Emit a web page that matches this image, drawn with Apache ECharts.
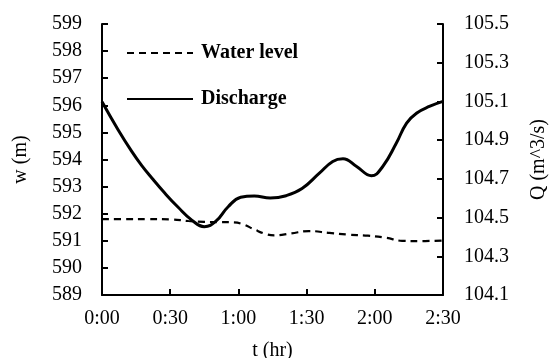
<!DOCTYPE html>
<html><head><meta charset="utf-8">
<script src="https://cdn.jsdelivr.net/npm/echarts@6/dist/echarts.min.js"></script>
<style>html,body{margin:0;padding:0;background:#fff}#c{width:551px;height:358px}</style>
</head><body><div id="c"></div>
<script>
// time in minutes
var wTimes = [0,10,20,30,38,45,52,58,62,67,72,76,83,91,100,108,117,125,132,140,150];
var waterLevel = [591.80,591.80,591.80,591.79,591.73,591.70,591.69,591.68,591.61,591.42,591.25,591.20,591.27,591.36,591.29,591.23,591.19,591.11,591.00,590.99,591.01];
var qTimes = [0,7,13,17.5,22,27.5,33.5,39.5,45,50,55.5,61,67,74,81,88,95.5,101.5,106,112,118.5,123.5,129.5,134,138.5,144,150];
var discharge = [105.098,104.955,104.843,104.768,104.703,104.628,104.553,104.487,104.453,104.480,104.556,104.605,104.612,104.601,104.613,104.650,104.728,104.790,104.804,104.764,104.716,104.764,104.885,104.988,105.040,105.074,105.100];
var xTickLabels = ['0:00','0:30','1:00','1:30','2:00','2:30'];
var seriesNames = ['Water level','Discharge'];

var font = 'Liberation Serif, Times New Roman, serif';
var chart = echarts.init(document.getElementById('c'));
function pairs(ts,v){return ts.map(function(t,i){return [t,v[i]];});}
chart.setOption({
  animation:false,
  grid:{left:102,right:108,top:24,bottom:63,containLabel:false,outerBoundsMode:'none'},
  xAxis:{type:'value',min:0,max:150,interval:30,
    name:'t (hr)',nameLocation:'middle',nameGap:46,
    nameTextStyle:{fontFamily:font,fontSize:20,color:'#000'},
    axisLine:{lineStyle:{color:'#000',width:2}},
    axisTick:{inside:true,length:6,lineStyle:{color:'#000',width:2}},
    axisLabel:{fontFamily:font,fontSize:20,color:'#000',margin:14,
      formatter:function(v){return xTickLabels[Math.round(v/30)];}},
    splitLine:{show:false}},
  yAxis:[
    {type:'value',min:589,max:599,interval:1,position:'left',
      name:'w (m)',nameLocation:'middle',nameGap:71,
      nameTextStyle:{fontFamily:font,fontSize:20,color:'#000'},
      axisLine:{show:true,lineStyle:{color:'#000',width:2}},
      axisTick:{show:true,inside:true,length:6,lineStyle:{color:'#000',width:2}},
      axisLabel:{fontFamily:font,fontSize:20,color:'#000',margin:20},
      splitLine:{show:false}},
    {type:'value',min:104.1,max:105.5,interval:0.2,position:'right',
      name:'Q (m^3/s)',nameLocation:'middle',nameGap:86,
      nameTextStyle:{fontFamily:font,fontSize:20,color:'#000'},
      axisLine:{show:true,lineStyle:{color:'#000',width:2}},
      axisTick:{show:true,inside:true,length:6,lineStyle:{color:'#000',width:2}},
      axisLabel:{fontFamily:font,fontSize:20,color:'#000',margin:21,
        formatter:function(v){return v.toFixed(1);}},
      splitLine:{show:false}}
  ],
  legend:{show:true,orient:'vertical',left:121,top:38,itemGap:26,itemWidth:66,itemHeight:14,
    itemStyle:{opacity:0},
    textStyle:{fontFamily:font,fontSize:20,fontWeight:'bold',color:'#000',padding:[0,0,0,3]},
    data:seriesNames},
  series:[
    {name:seriesNames[0],type:'line',yAxisIndex:0,data:pairs(wTimes,waterLevel),smooth:0.45,symbol:'none',
      lineStyle:{color:'#000',width:2.2,type:[7,5]},itemStyle:{color:'#000'}},
    {name:seriesNames[1],type:'line',yAxisIndex:1,data:pairs(qTimes,discharge),smooth:0.45,symbol:'none',
      lineStyle:{color:'#000',width:3},itemStyle:{color:'#000'}}
  ]
});
</script></body></html>
